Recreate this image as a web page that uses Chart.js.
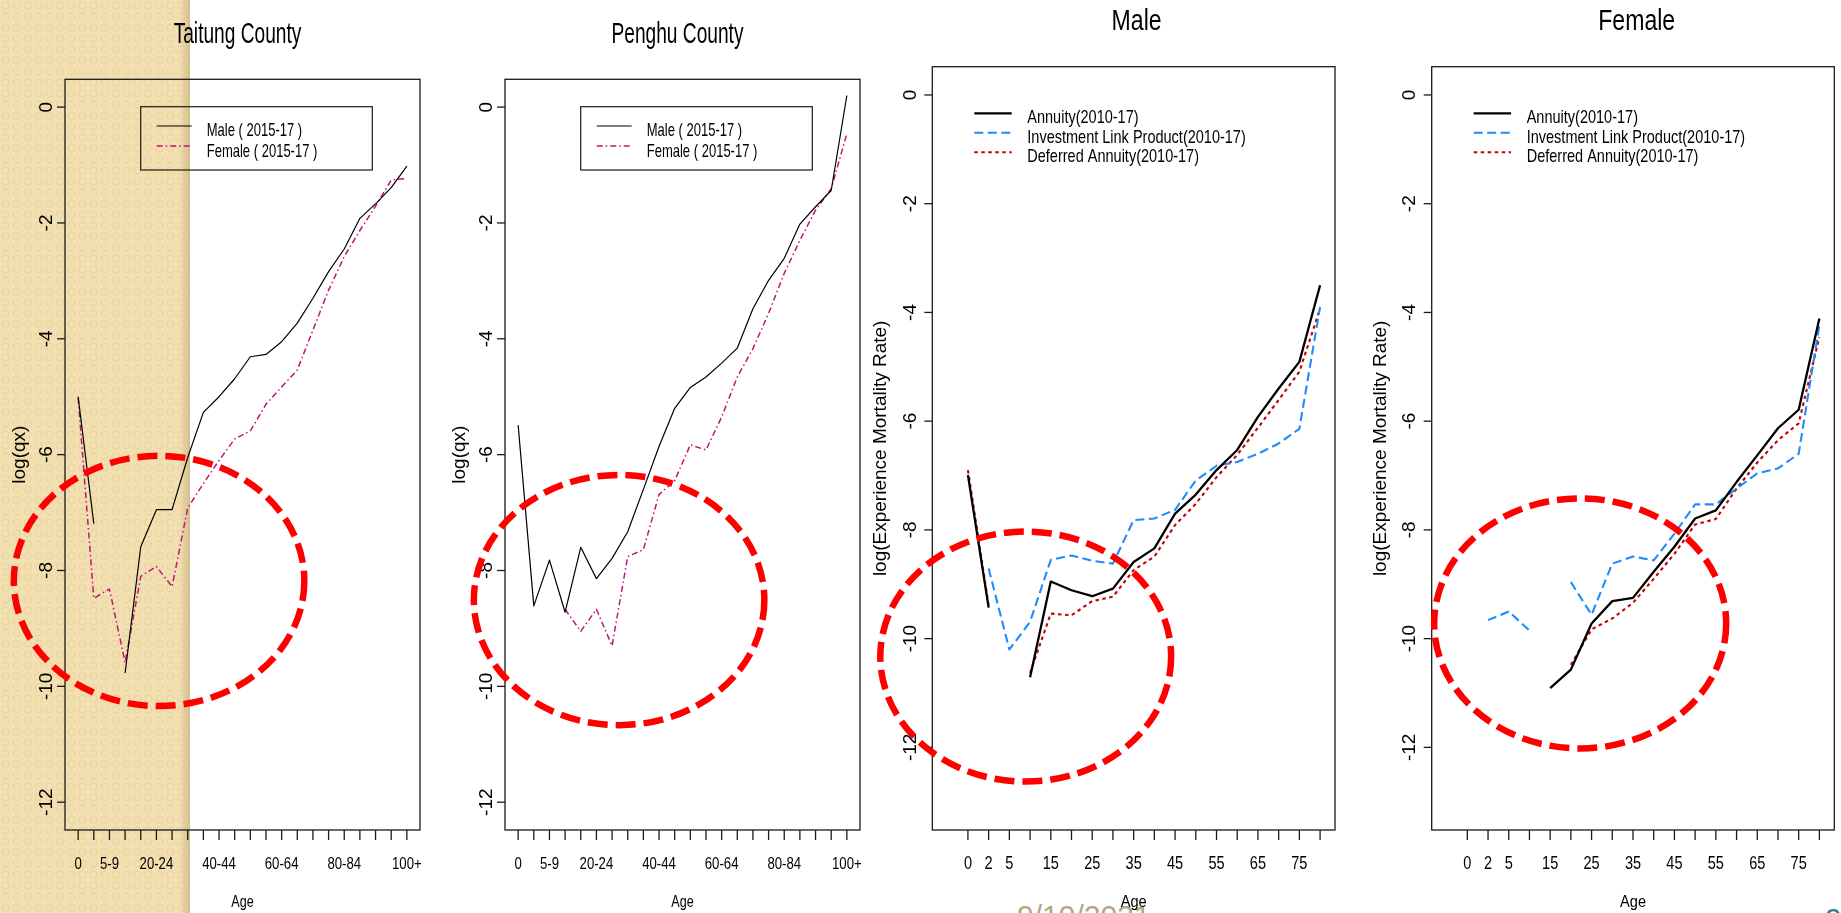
<!DOCTYPE html>
<html>
<head>
<meta charset="utf-8">
<script src="https://cdn.jsdelivr.net/npm/chart.js@4/dist/chart.umd.min.js"></script>
<style>
  html, body { margin: 0; padding: 0; width: 1841px; height: 913px; overflow: hidden; background: #fff; }
  #stage { position: relative; width: 1841px; height: 913px; overflow: hidden; background: #fff; }
  #strip {
    position: absolute; left: 0; top: 0; width: 190px; height: 913px;
    background-color: #F2E0B1;
    background-image: radial-gradient(circle, rgba(0,0,0,0) 2.4px, rgba(215,190,135,0.28) 3.0px, rgba(215,190,135,0.28) 3.8px, rgba(0,0,0,0) 4.4px);
    background-size: 11px 11px;
  }
  #stripEdge {
    position: absolute; left: 180px; top: 0; width: 10px; height: 913px;
    background: linear-gradient(to right, rgba(180,155,100,0), rgba(180,155,100,0.5));
  }
  .foot { position: absolute; font: 30px "Liberation Sans", Arial, sans-serif; line-height: 30px; white-space: nowrap; }
  #date { left: 1017px; top: 901px; color: #B2A586; }
  #page { left: 1825px; top: 904px; color: #2B7D8E; }
  canvas.layer { position: absolute; left: 0; top: 0; }
</style>
</head>
<body>
<div id="stage">
  <div id="strip"></div>
  <div id="stripEdge"></div>
  <div id="date" class="foot">9/19/2021</div>
  <div id="page" class="foot">9</div>
  <canvas id="c1" class="layer" width="1841" height="913"></canvas>
  <canvas id="c2" class="layer" width="1841" height="913"></canvas>
  <canvas id="c3" class="layer" width="1841" height="913"></canvas>
  <canvas id="c4" class="layer" width="1841" height="913"></canvas>
</div>
<script>
// ---------- county life tables: log(qx) by 5-year age group ----------
const countyAgeGroups = ['0','1-4','5-9','10-14','15-19','20-24','25-29','30-34','35-39','40-44','45-49',
  '50-54','55-59','60-64','65-69','70-74','75-79','80-84','85-89','90-94','95-99','100+'];
const countyTickLabels = ['0','','5-9','','','20-24','','','','40-44','','','','60-64','','','','80-84','','','','100+'];
const countyYTicks = [0, -2, -4, -6, -8, -10, -12];

const taitungMale   = [-5.00, -7.19, null, -9.77, -7.59, -6.95, -6.95, -6.05, -5.27, -5.00, -4.69,
  -4.31, -4.27, -4.05, -3.73, -3.30, -2.84, -2.45, -1.92, -1.67, -1.39, -1.02];
const taitungFemale = [-5.02, -8.48, -8.32, -9.59, -8.10, -7.93, -8.28, -6.92, -6.50, -6.10, -5.73,
  -5.59, -5.13, -4.83, -4.54, -3.85, -3.16, -2.58, -2.13, -1.71, -1.26, -1.23];

const penghuMale    = [-5.49, -8.61, -7.82, -8.72, -7.60, -8.14, -7.79, -7.33, -6.60, -5.86, -5.20,
  -4.84, -4.66, -4.42, -4.16, -3.48, -2.99, -2.61, -2.02, -1.72, -1.44, 0.20];
const penghuFemale  = [null, null, null, -8.67, -9.05, -8.67, -9.30, -7.76, -7.64, -6.69, -6.45,
  -5.83, -5.92, -5.35, -4.66, -4.17, -3.56, -2.87, -2.30, -1.78, -1.41, -0.46];

// ---------- insurance experience: log(experience mortality rate) by age ----------
const productAges = [0, 2, 5, 10, 15, 20, 25, 30, 35, 40, 45, 50, 55, 60, 65, 70, 75, 80];
const productTickLabels = ['0','2','5','','15','','25','','35','','45','','55','','65','','75',''];
const productYTicks = [0, -2, -4, -6, -8, -10, -12];

const maleAnnuity   = [-6.99, -9.43, null, -10.71, -8.95, -9.11, -9.22, -9.08, -8.59, -8.34, -7.70,
  -7.35, -6.90, -6.53, -5.92, -5.40, -4.91, -3.50];
const maleILP       = [null, -8.71, -10.20, -9.69, -8.55, -8.47, -8.57, -8.62, -7.82, -7.79, -7.63,
  -7.09, -6.82, -6.75, -6.60, -6.41, -6.14, -3.90];
const maleDeferred  = [-6.90, -9.39, null, -10.63, -9.54, -9.57, -9.31, -9.23, -8.74, -8.49, -7.91,
  -7.52, -7.03, -6.62, -6.12, -5.61, -5.09, -3.93];

const femaleAnnuity  = [null, null, null, null, -10.91, -10.57, -9.72, -9.31, -9.25, -8.77, -8.31,
  -7.79, -7.64, -7.12, -6.63, -6.13, -5.79, -4.11];
const femaleILP      = [null, -9.66, -9.50, -9.85, null, -8.96, -9.56, -8.62, -8.49, -8.56, -8.07,
  -7.53, -7.53, -7.24, -6.96, -6.87, -6.60, -4.23];
const femaleDeferred = [null, null, null, null, null, -10.48, -9.83, -9.63, -9.34, -8.90, -8.44,
  -7.90, -7.80, -7.24, -6.76, -6.35, -6.04, -4.45];

// ---------- drawing ----------
const W = 1841, H = 913;
const FONT = '"Liberation Sans", Arial, Helvetica, sans-serif';

function drawText(ctx, str, x, y, size, o) {
  o = Object.assign({ sx: 1, align: 'center', baseline: 'alphabetic', color: '#000', rot: 0 }, o || {});
  ctx.save();
  ctx.font = size + 'px ' + FONT;
  ctx.fillStyle = o.color;
  ctx.textAlign = o.align;
  ctx.textBaseline = o.baseline;
  ctx.translate(x, y);
  if (o.rot) ctx.rotate(o.rot);
  ctx.scale(o.sx, 1);
  ctx.fillText(str, 0, 0);
  ctx.restore();
}

function seg(ctx, x1, y1, x2, y2) {
  ctx.beginPath(); ctx.moveTo(x1, y1); ctx.lineTo(x2, y2); ctx.stroke();
}

function framePlugin(cfg) {
  return {
    id: 'frame_' + cfg.id,
    afterDraw(chart) {
      const ctx = chart.ctx, a = chart.chartArea;
      const xs = chart.scales.x, ys = chart.scales.y;
      ctx.save();
      ctx.strokeStyle = '#1a1a1a';
      ctx.lineWidth = 1.3;
      ctx.setLineDash([]);
      ctx.strokeRect(a.left, a.top, a.right - a.left, a.bottom - a.top);

      // y axis: outward ticks, labels parallel to the axis
      cfg.yTicks.forEach(v => {
        const py = ys.getPixelForValue(v);
        seg(ctx, a.left, py, a.left - 8, py);
        drawText(ctx, String(v), a.left - cfg.yLabOff, py, 19, { rot: -Math.PI / 2, baseline: 'middle' });
      });
      // x axis: a tick at every category, labels where room allows
      cfg.tickLabels.forEach((lab, i) => {
        const px = xs.getPixelForValue(i + 1);
        seg(ctx, px, a.bottom, px, a.bottom + 10);
        if (lab) drawText(ctx, lab, px, cfg.xLabBase, cfg.xLabSize, { sx: cfg.xLabSx });
      });
      ctx.restore();

      const cx = (a.left + a.right) / 2, cy = (a.top + a.bottom) / 2;
      drawText(ctx, cfg.title, cx + cfg.titleDx, cfg.titleBase, cfg.titleSize, { sx: cfg.titleSx });
      drawText(ctx, 'Age', cx, 906.7, 17, { sx: cfg.xTitleSx });
      drawText(ctx, cfg.yTitle, a.left - cfg.yTitleOff, cy, 19, { rot: -Math.PI / 2, baseline: 'middle' });

      // legend
      const L = cfg.legend;
      ctx.save();
      if (L.boxed) {
        ctx.strokeStyle = '#1a1a1a'; ctx.lineWidth = 1.2;
        ctx.strokeRect(a.left + L.box[0], a.top + L.box[1], L.box[2], L.box[3]);
      }
      chart.data.datasets.forEach((ds, i) => {
        const y = a.top + L.rows[i];
        ctx.strokeStyle = ds.borderColor;
        ctx.lineWidth = ds.borderWidth;
        ctx.setLineDash(ds.borderDash || []);
        ctx.lineCap = 'butt';
        seg(ctx, a.left + L.sx, y, a.left + L.ex, y);
        drawText(ctx, ds.label, a.left + L.tx, a.top + L.tBase[i], L.size, { sx: L.tsx, align: 'left' });
      });
      ctx.restore();

      // highlighted region
      const r = cfg.ring;
      const ex = xs.getPixelForValue(r[0]), ey = ys.getPixelForValue(r[1]);
      const rx = Math.abs(xs.getPixelForValue(r[0] + r[2]) - ex);
      const ry = Math.abs(ys.getPixelForValue(r[1] + r[3]) - ey);
      ctx.save();
      ctx.strokeStyle = '#FF0000';
      ctx.lineWidth = 6.5;
      ctx.setLineDash([20, 8]);
      ctx.beginPath();
      ctx.ellipse(ex, ey, rx, ry, 0, 0, Math.PI * 2);
      ctx.stroke();
      ctx.restore();
    }
  };
}

function makePanel(cfg) {
  const ext = (lo, hi) => [lo - 0.04 * (hi - lo), hi + 0.04 * (hi - lo)];
  const [xmin, xmax] = ext(cfg.xlim[0], cfg.xlim[1]);
  const [ymin, ymax] = ext(cfg.ylim[0], cfg.ylim[1]);
  return new Chart(document.getElementById(cfg.id), {
    type: 'line',
    data: {
      datasets: cfg.series.map(s => ({
        label: s.label,
        data: s.values.map((v, i) => ({ x: i + 1, y: v })),
        borderColor: s.color,
        borderWidth: s.width,
        borderDash: s.dash || [],
        borderCapStyle: 'butt',
        borderJoinStyle: 'round',
        pointRadius: 0,
        fill: false,
        tension: 0,
        spanGaps: false
      }))
    },
    options: {
      responsive: false,
      animation: false,
      events: [],
      layout: { padding: { left: cfg.box.l, right: W - cfg.box.r, top: cfg.box.t, bottom: H - cfg.box.b } },
      scales: {
        x: { type: 'linear', min: xmin, max: xmax, display: false },
        y: { type: 'linear', min: ymin, max: ymax, display: false }
      },
      plugins: { legend: { display: false }, tooltip: { enabled: false }, title: { display: false } }
    },
    plugins: [framePlugin(cfg)]
  });
}

const MAGENTA = '#C2127A';
const countyStyle = {
  xlim: [1, countyAgeGroups.length], ylim: [-12, 0], yTicks: countyYTicks, tickLabels: countyTickLabels,
  titleDx: -5, titleBase: 42.7, titleSize: 29, titleSx: 0.66,
  yTitle: 'log(qx)', yTitleOff: 45, yLabOff: 18.5,
  xLabBase: 869.3, xLabSize: 17, xLabSx: 0.775, xTitleSx: 0.74,
  legend: { boxed: true, box: [75.7, 27.4, 231.6, 63.3], sx: 91.7, ex: 126.7, rows: [46.7, 66.7],
            tx: 141.7, tBase: [56.7, 77.4], size: 18.6, tsx: 0.70 }
};
const productStyle = {
  xlim: [0, productAges.length], ylim: [-13, 0], yTicks: productYTicks, tickLabels: productTickLabels,
  titleBase: 30, titleSize: 30, titleSx: 0.77,
  yTitle: 'log(Experience Mortality Rate)', yLabOff: 21.5,
  xLabBase: 869.3, xLabSize: 17.5, xLabSx: 0.83, xTitleSx: 0.86,
  legend: { boxed: false, sx: 42, ex: 79.4, rows: [46.6, 66, 85.6],
            tx: 95, tBase: [56, 76, 95], size: 18.6, tsx: 0.78 }
};
const countySeries = (m, f) => [
  { label: 'Male ( 2015-17 )', values: m, color: '#000000', width: 1.2 },
  { label: 'Female ( 2015-17 )', values: f, color: MAGENTA, width: 1.5, dash: [6, 3, 1.5, 3] }
];
const productSeries = (a, ilp, d) => [
  { label: 'Annuity(2010-17)', values: a, color: '#000000', width: 2.3 },
  { label: 'Investment Link Product(2010-17)', values: ilp, color: '#1E8BFF', width: 2.1, dash: [9, 4.5] },
  { label: 'Deferred Annuity(2010-17)', values: d, color: '#C40000', width: 2.1, dash: [3.5, 3.5] }
];

makePanel(Object.assign({}, countyStyle, {
  id: 'c1', box: { l: 65, r: 420, t: 79.3, b: 830 }, title: 'Taitung County',
  series: countySeries(taitungMale, taitungFemale), ring: [6.17, -8.18, 9.28, 2.16]
}));
makePanel(Object.assign({}, countyStyle, {
  id: 'c2', box: { l: 505, r: 860, t: 79.3, b: 830 }, title: 'Penghu County',
  series: countySeries(penghuMale, penghuFemale), ring: [7.45, -8.51, 9.28, 2.16]
}));
makePanel(Object.assign({}, productStyle, {
  id: 'c3', box: { l: 932.3, r: 1335, t: 66.7, b: 830 }, title: 'Male', titleDx: 3, yTitleOff: 52,
  series: productSeries(maleAnnuity, maleILP, maleDeferred), ring: [3.79, -10.33, 7.02, 2.30]
}));
makePanel(Object.assign({}, productStyle, {
  id: 'c4', box: { l: 1431.7, r: 1834.3, t: 66.7, b: 830 }, title: 'Female', titleDx: 3.7, yTitleOff: 51,
  series: productSeries(femaleAnnuity, femaleILP, femaleDeferred), ring: [6.45, -9.72, 7.05, 2.30]
}));
</script>
</body>
</html>
